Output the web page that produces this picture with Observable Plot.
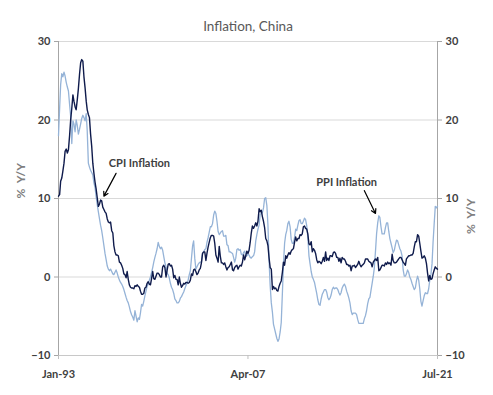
<!DOCTYPE html>
<html><head><meta charset="utf-8">
<script src="https://cdn.jsdelivr.net/npm/d3@7"></script>
<script src="https://cdn.jsdelivr.net/npm/@observablehq/plot@0.6"></script>
<style>html,body{margin:0;padding:0;background:#fff}</style>
</head><body><div id="chart"></div>
<script>
// Monthly series start Jan-1993, end Jul-2021
const startMonth = "1993-01";
const cpiValues = [
 10.3,10.5,12.2,12.6,13.5,14.5,16.0,16.3,15.8,16.2,18.0,20.0,
 21.5,23.2,22.4,21.7,21.3,22.6,24.0,25.8,27.3,27.7,27.5,25.5,
 24.1,22.4,21.3,20.7,20.3,18.2,16.7,14.5,13.2,12.1,11.2,10.1,
 9.0,9.3,9.8,9.7,8.9,8.6,8.3,8.1,7.4,7.0,6.9,7.0,
 5.9,5.6,4.0,3.2,2.8,2.8,2.7,1.9,1.8,1.5,1.1,0.4,
 0.3,-0.1,0.7,-0.3,-1.0,-1.3,-1.4,-1.4,-1.5,-1.1,-1.2,-1.0,
 -1.2,-1.3,-1.8,-2.2,-2.2,-2.1,-1.4,-1.3,-0.8,-0.6,-0.9,-1.0,
 -0.2,0.7,-0.2,-0.3,0.1,0.5,0.5,0.3,0.0,0.0,1.3,1.5,
 1.2,0.0,0.8,1.6,1.7,1.4,1.5,1.0,-0.1,0.2,-0.3,-0.3,
 -1.0,0.0,-0.8,-1.3,-1.1,-0.8,-0.9,-0.7,-0.7,-0.8,-0.7,-0.4,
 0.4,0.2,0.9,1.0,0.7,0.3,0.5,0.9,1.1,1.8,3.0,3.2,
 3.2,2.1,3.0,3.8,4.4,5.0,5.3,5.3,5.2,4.3,2.8,2.4,
 1.9,3.9,2.7,1.8,1.8,1.6,1.8,1.3,0.9,1.2,1.3,1.6,
 1.9,0.9,0.8,1.2,1.4,1.5,1.0,1.3,1.5,1.4,1.9,2.8,
 2.2,2.7,3.3,3.0,3.4,4.4,5.6,6.5,6.2,6.5,6.9,6.5,
 7.1,8.7,8.3,8.5,7.7,7.1,6.3,4.9,4.6,4.0,2.4,1.2,
 1.0,-1.6,-1.2,-1.5,-1.4,-1.7,-1.8,-1.2,-0.8,-0.5,0.6,1.9,
 1.5,2.7,2.4,2.8,3.1,2.9,3.3,3.5,3.6,4.4,5.1,4.6,
 4.9,4.9,5.4,5.3,5.5,6.4,6.5,6.2,6.1,5.5,4.2,4.1,
 4.5,3.2,3.6,3.4,3.0,2.2,1.8,2.0,1.9,1.7,2.0,2.5,
 2.0,3.2,2.1,2.4,2.1,2.7,2.7,2.6,3.1,3.2,3.0,2.5,
 2.5,2.0,2.4,1.8,2.5,2.3,2.3,2.0,1.6,1.6,1.4,1.5,
 0.8,1.4,1.4,1.5,1.2,1.4,1.6,2.0,1.6,1.3,1.5,1.6,
 1.8,2.3,2.3,2.3,2.0,1.9,1.8,1.3,1.9,2.1,2.3,2.1,
 2.5,0.8,0.9,1.2,1.5,1.5,1.4,1.8,1.6,1.9,1.7,1.8,
 1.5,2.9,2.1,1.8,1.8,1.9,2.1,2.3,2.5,2.5,2.2,1.9,
 1.7,1.5,2.3,2.5,2.7,2.7,2.8,2.8,3.0,3.8,4.5,4.5,
 5.4,5.2,4.3,3.3,2.4,2.5,2.7,2.4,1.7,0.5,-0.5,0.2,
 -0.3,-0.2,0.4,0.9,1.3,1.1,1.0
];
const ppiValues = [
 18.0,21.5,24.5,25.9,25.5,26.1,25.6,24.8,24.2,23.7,22.0,20.5,
 17.0,19.9,19.5,18.5,20.0,19.3,18.2,18.8,19.5,20.2,20.6,20.3,
 19.9,20.8,18.6,14.5,14.0,13.6,13.3,13.0,12.0,11.4,10.2,9.2,
 8.3,7.4,6.6,5.9,5.0,4.0,3.0,2.2,1.4,1.0,0.8,1.0,
 0.7,0.4,0.3,0.6,0.9,0.5,0.0,-0.4,-0.7,-0.9,-1.2,-1.6,
 -2.1,-2.6,-3.0,-3.3,-3.8,-4.4,-4.8,-5.1,-5.5,-4.3,-5.0,-5.7,
 -5.2,-5.4,-4.6,-3.5,-3.7,-3.1,-2.4,-1.8,-1.2,-0.9,-0.4,0.0,
 0.6,1.2,1.9,2.5,3.0,3.6,4.4,3.9,3.6,3.8,3.4,2.6,
 1.8,1.3,0.5,0.3,-0.1,-0.8,-1.3,-1.6,-2.1,-2.8,-3.0,-3.3,
 -3.3,-3.1,-2.7,-2.5,-2.2,-1.9,-1.5,-1.1,-0.8,-0.4,0.3,0.8,
 2.4,4.0,4.6,2.4,1.0,1.3,1.6,1.8,1.9,1.9,3.0,3.2,
 3.5,3.6,4.4,5.0,5.7,6.4,6.4,6.8,7.9,8.4,8.1,7.1,
 5.8,5.4,5.6,5.8,5.9,5.2,5.2,5.3,4.1,4.0,3.2,3.2,
 3.1,3.0,2.5,1.9,2.4,3.5,3.6,3.4,3.5,2.9,2.8,3.1,
 3.3,2.6,2.7,2.9,2.8,2.5,2.4,2.6,2.7,3.2,4.6,5.4,
 6.1,6.6,8.0,8.1,8.2,8.8,10.0,10.1,9.1,6.6,2.0,-1.1,
 -3.3,-4.5,-6.0,-6.6,-7.2,-7.8,-8.2,-7.9,-7.0,-5.8,-2.1,1.7,
 4.3,5.4,5.9,6.8,7.1,6.4,4.8,4.3,4.3,5.0,6.1,5.9,
 6.6,7.2,7.3,6.8,6.8,7.1,7.5,7.3,6.5,5.0,2.7,1.7,
 0.7,0.0,-0.3,-0.7,-1.4,-2.1,-2.9,-3.5,-3.6,-2.8,-2.2,-1.9,
 -1.6,-1.6,-1.9,-2.6,-2.9,-2.7,-2.3,-1.6,-1.3,-1.5,-1.4,-1.4,
 -1.6,-2.0,-2.3,-2.0,-1.4,-1.1,-0.9,-1.2,-1.8,-2.2,-2.7,-3.3,
 -4.3,-4.8,-4.6,-4.6,-4.6,-4.8,-5.4,-5.9,-5.9,-5.9,-5.9,-5.9,
 -5.3,-4.9,-4.3,-3.4,-2.8,-2.6,-1.7,-0.8,0.1,1.2,3.3,5.5,
 6.9,7.8,7.6,6.4,5.5,5.5,5.5,6.3,6.9,6.9,5.8,4.9,
 4.3,3.7,3.1,3.4,4.1,4.7,4.6,4.1,3.6,3.3,2.7,0.9,
 0.1,0.1,0.4,0.9,0.6,0.0,-0.3,-0.8,-1.2,-1.6,-1.4,-0.5,
 0.1,-0.4,-1.5,-3.1,-3.7,-3.0,-2.4,-2.0,-2.1,-2.1,-1.5,-0.4,
 0.3,1.7,4.4,6.8,9.0,8.8,9.0
];
const yTicks = [-10, 0, 10, 20, 30];
const xTickMonths = ["1993-01", "2007-04", "2021-07"];
const xTickLabels = ["Jan-93", "Apr-07", "Jul-21"];
const titleText = "Inflation, China";
const yAxisLabel = "%  Y/Y";
const annLabels = ["CPI Inflation", "PPI Inflation"];
const annMonths = ["1999-02", "2014-09"];
const annValues = [14.5, 12.0];
const arrowFromMonths = ["1997-05", "2016-01"];
const arrowFromValues = [13.2, 11.0];
const arrowToMonths = ["1996-06", "2016-11"];
const arrowToValues = [10.3, 8.1];

const parseM = d3.utcParse("%Y-%m");
const start = parseM(startMonth);
const cpiRows = cpiValues.map((v, i) => ({date: d3.utcMonth.offset(start, i), value: v}));
const ppiRows = ppiValues.map((v, i) => ({date: d3.utcMonth.offset(start, i), value: v}));
const end = cpiRows[cpiRows.length - 1].date;
const xTicks = xTickMonths.map(parseM);
const labelMap = new Map(xTicks.map((d, i) => [+d, xTickLabels[i]]));
const anns = annLabels.map((t, i) => ({text: t, date: parseM(annMonths[i]), value: annValues[i]}));
const arrows = annLabels.map((t, i) => ({
  x1: parseM(arrowFromMonths[i]), y1: arrowFromValues[i],
  x2: parseM(arrowToMonths[i]), y2: arrowToValues[i]
}));

const chart = Plot.plot({
  width: 493, height: 395,
  marginLeft: 58, marginRight: 56, marginTop: 41, marginBottom: 40,
  style: {fontFamily: "Lato, sans-serif", background: "#fff"},
  x: {type: "utc", domain: [start, end]},
  y: {domain: [-10, 30]},
  marks: [
    Plot.gridY(yTicks.filter(d => d > -10), {stroke: "#d9d9d9", strokeOpacity: 1, strokeWidth: 1}),
    Plot.ruleY([-10], {stroke: "#c8c8c8", strokeWidth: 1}),
    Plot.ruleX([start, end], {stroke: "#a6a6a6", strokeWidth: 1}),
    Plot.axisY(yTicks, {anchor: "left", tickSize: 4, tickPadding: 4, stroke: "#a6a6a6", fill: "#404040",
      fontWeight: "bold", fontSize: 11, label: null}),
    Plot.axisY(yTicks, {anchor: "right", tickSize: 4, tickPadding: 4, stroke: "#a6a6a6", fill: "#404040",
      fontWeight: "bold", fontSize: 11, label: null}),
    Plot.axisX(xTicks, {tickSize: 4, tickPadding: 11, stroke: "#bfbfbf", fill: "#404040",
      fontWeight: "bold", fontSize: 11, tickFormat: d => labelMap.get(+d), label: null}),
    Plot.line(ppiRows, {x: "date", y: "value", stroke: "#95b3d7", strokeWidth: 1.3}),
    Plot.line(cpiRows, {x: "date", y: "value", stroke: "#0f1b4c", strokeWidth: 1.4}),
    Plot.arrow(arrows, {x1: "x1", y1: "y1", x2: "x2", y2: "y2", stroke: "#000", strokeWidth: 1.2, headLength: 6, bend: 0}),
    Plot.text(anns, {x: "date", y: "value", text: "text", fontWeight: "bold", fontSize: 11, fill: "#404040"}),
    Plot.text([titleText], {frameAnchor: "top", dy: -20, fontSize: 13.5, fill: "#595959"}),
    Plot.text([yAxisLabel], {frameAnchor: "left", dx: -37, rotate: -90, fontSize: 12, fontWeight: "bold", fill: "#7f7f7f"}),
    Plot.text([yAxisLabel], {frameAnchor: "right", dx: 34, rotate: -90, fontSize: 12, fontWeight: "bold", fill: "#7f7f7f"})
  ]
});
document.getElementById("chart").appendChild(chart);
</script>
</body></html>
